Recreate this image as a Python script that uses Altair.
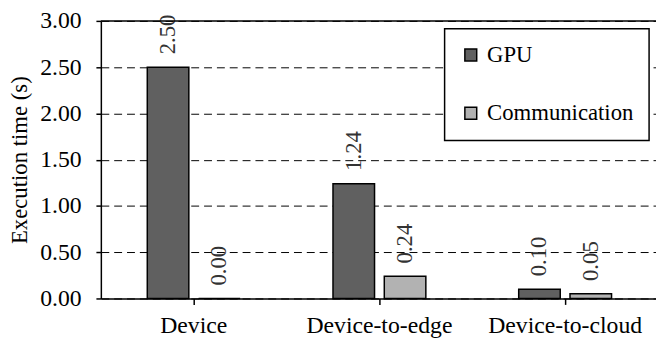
import altair as alt
import pandas as pd

categories = ["Device", "Device-to-edge", "Device-to-cloud"]
series = ["GPU", "Communication"]
gpu_values = [2.50, 1.24, 0.10]
comm_values = [0.00, 0.24, 0.05]
y_ticks = [0, 0.5, 1, 1.5, 2, 2.5, 3]
colors = ["#606060", "#b2b2b2"]

rows = []
for c, g, m in zip(categories, gpu_values, comm_values):
    rows.append({"cat": c, "series": "GPU", "value": g})
    rows.append({"cat": c, "series": "Communication", "value": m})
df = pd.DataFrame(rows)

FONT = "Liberation Serif"
W, H = 562, 281

x = alt.X(
    "cat:N", sort=categories,
    scale=alt.Scale(range=[0, 564], paddingInner=0.5, paddingOuter=0.25),
    axis=alt.Axis(title=None, labelAngle=0, labelFont=FONT, labelFontSize=24,
                  labelColor="black", labelPadding=9, tickColor="black",
                  tickSize=6, tickWidth=1.5, domainColor="black",
                  domainWidth=1.5, grid=False),
)
xoff = alt.XOffset("series:N", sort=series,
                   scale=alt.Scale(domain=series, paddingInner=0.19, paddingOuter=0))
y = alt.Y(
    "value:Q",
    scale=alt.Scale(domain=[0, 3], nice=False),
    axis=alt.Axis(values=y_ticks, format=".2f", title="Execution time (s)",
                  titleFont=FONT, titleFontSize=23, titleFontWeight="normal",
                  titleColor="black", titlePadding=8,
                  labelFont=FONT, labelFontSize=24, labelColor="black",
                  labelPadding=15, tickColor="black", tickSize=5, tickWidth=1.5,
                  domainColor="black", domainWidth=1.5,
                  grid=True, gridDash=[8, 5], gridColor="black", gridWidth=1),
)

color = alt.Color(
    "series:N", sort=series,
    scale=alt.Scale(domain=series, range=colors),
    legend=alt.Legend(title=None, orient="none", legendX=348, legendY=8,
                      direction="vertical", symbolType="square", symbolSize=144,
                      symbolStrokeColor="black", symbolStrokeWidth=1.5,
                      labelFont=FONT, labelFontSize=23, labelColor="black",
                      labelOffset=5, strokeColor="black", padding=15,
                      fillColor="white", rowPadding=35),
)

bars = alt.Chart(df).mark_bar(stroke="black", strokeWidth=1.5).encode(
    x=x, xOffset=xoff, y=y, color=color
)
labels = alt.Chart(df).mark_text(
    angle=270, align="left", baseline="middle", dx=13,
    font=FONT, fontSize=23, color="#333333"
).encode(x=x, xOffset=xoff, y=y, text=alt.Text("value:Q", format=".2f"))

top = alt.Chart(pd.DataFrame({"value": [3.0]})).mark_rule(
    color="black", strokeWidth=1.5
).encode(y=alt.Y("value:Q"), x=alt.value(0), x2=alt.value(W))

chart = alt.layer(bars, labels, top).properties(
    width=W, height=H,
    autosize=alt.AutoSizeParams(type="none"),
    padding={"left": 94, "top": 11, "right": 0, "bottom": 40},
).configure_view(stroke=None).configure_legend(strokeWidth=1.5)

chart.save("out.html", embed_options={"renderer": "svg", "actions": False})
